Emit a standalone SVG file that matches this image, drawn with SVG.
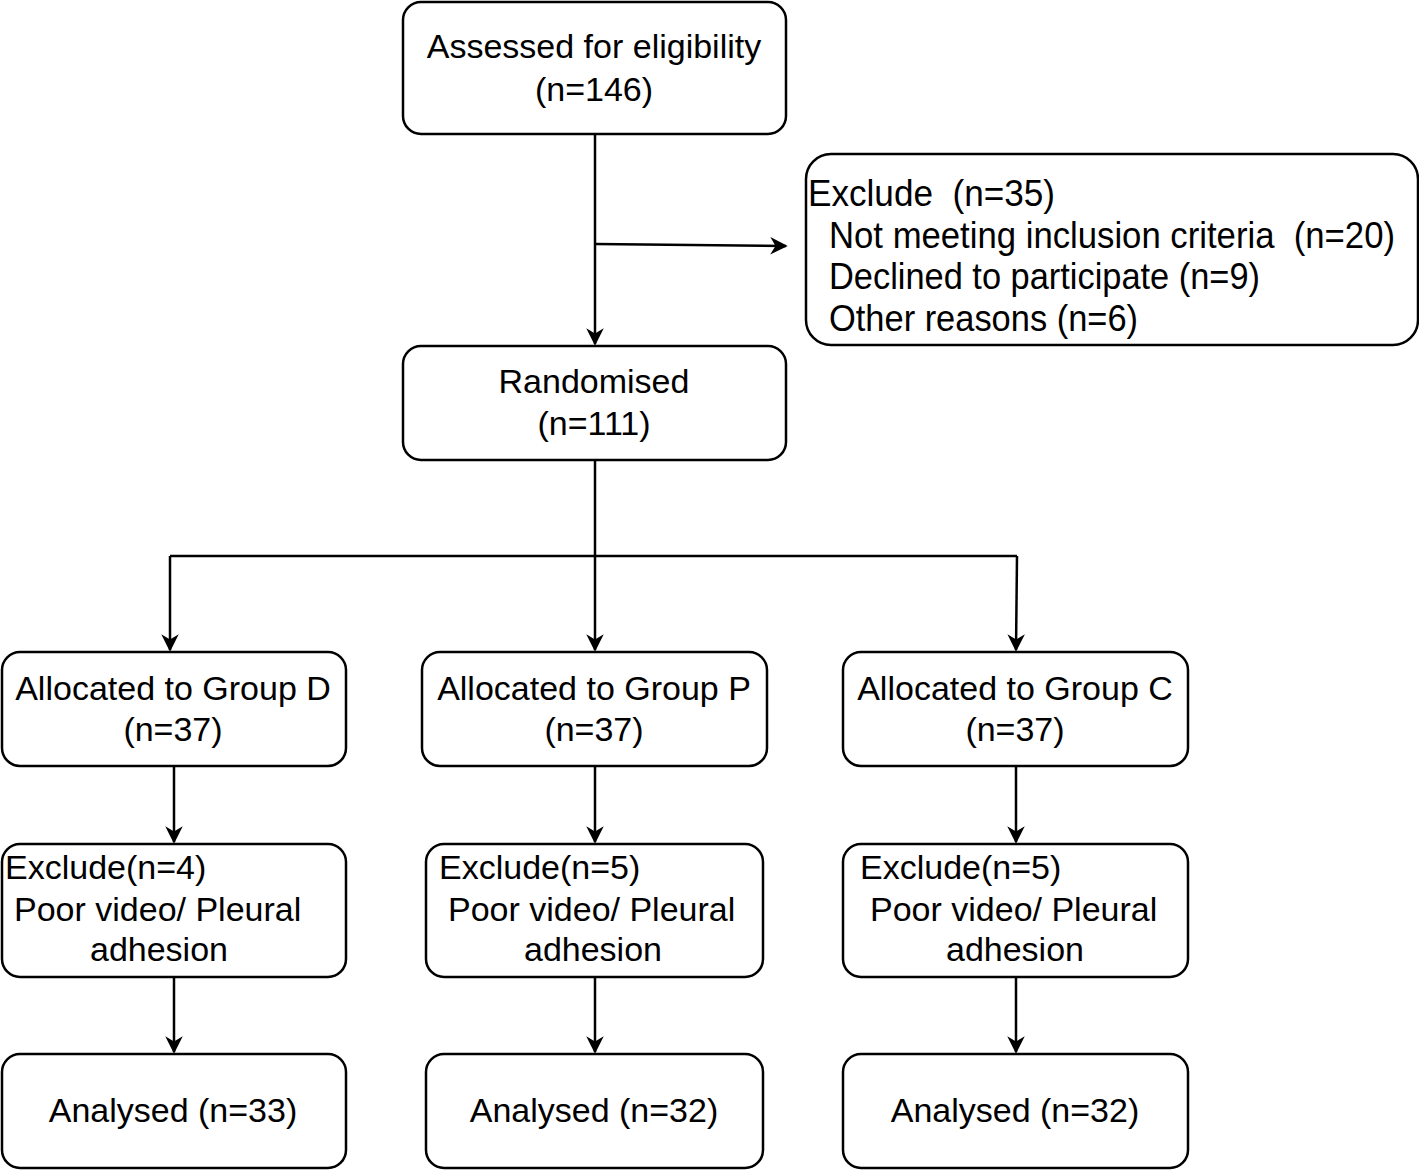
<svg xmlns="http://www.w3.org/2000/svg" width="1419" height="1170" viewBox="0 0 1419 1170">
<style>
.box{fill:#fff;stroke:#000;stroke-width:2.5}
.t{font-family:"Liberation Sans",Arial,sans-serif;font-size:34px;fill:#000}
.c{text-anchor:middle}
.n{font-family:"Liberation Sans",Arial,sans-serif;font-size:36px;fill:#000}
.ln{fill:none;stroke:#000;stroke-width:2.5}
</style>
<defs>
<marker id="ar" viewBox="0 0 10 10" refX="9" refY="5" markerWidth="7" markerHeight="7" orient="auto" markerUnits="strokeWidth">
<path d="M0,0 L10,5 L0,10 L3,5 z" fill="#000"/>
</marker>
</defs>
<rect width="1419" height="1170" fill="#fff"/>
<g id="connectors">
<path class="ln" d="M595,134 V344" marker-end="url(#ar)"/>
<path class="ln" d="M595,244 L786,246" marker-end="url(#ar)"/>
<path class="ln" d="M595,460 V650" marker-end="url(#ar)"/>
<path class="ln" d="M170,556 H1017"/>
<path class="ln" d="M170,556 V650" marker-end="url(#ar)"/>
<path class="ln" d="M1017,556 L1016,650" marker-end="url(#ar)"/>
<path class="ln" d="M174,766 V842" marker-end="url(#ar)"/>
<path class="ln" d="M595,766 V842" marker-end="url(#ar)"/>
<path class="ln" d="M1016,766 V842" marker-end="url(#ar)"/>
<path class="ln" d="M174,977 V1052" marker-end="url(#ar)"/>
<path class="ln" d="M595,977 V1052" marker-end="url(#ar)"/>
<path class="ln" d="M1016,977 V1052" marker-end="url(#ar)"/>
</g>
<g id="assessed">
<rect class="box" x="403" y="2" width="383" height="132" rx="18"/>
<text class="t c" x="594" y="58">Assessed for eligibility</text>
<text class="t c" x="594" y="101">(n=146)</text>
</g>
<g id="exclude-main">
<rect class="box" x="806" y="154" width="612" height="191" rx="25"/>
<text class="n" x="808" y="206" textLength="247" lengthAdjust="spacingAndGlyphs" xml:space="preserve">Exclude  (n=35)</text>
<text class="n" x="829" y="248" textLength="566" lengthAdjust="spacingAndGlyphs" xml:space="preserve">Not meeting inclusion criteria  (n=20)</text>
<text class="n" x="829" y="289" textLength="431" lengthAdjust="spacingAndGlyphs">Declined to participate (n=9)</text>
<text class="n" x="829" y="331" textLength="309" lengthAdjust="spacingAndGlyphs">Other reasons (n=6)</text>
</g>
<g id="randomised">
<rect class="box" x="403" y="346" width="383" height="114" rx="18"/>
<text class="t c" x="594" y="393">Randomised</text>
<text class="t c" x="594" y="435">(n=111)</text>
</g>
<g id="group-d">
<rect class="box" x="2" y="652" width="344" height="114" rx="18"/>
<text class="t c" x="173" y="700">Allocated to Group D</text>
<text class="t c" x="173" y="741">(n=37)</text>
</g>
<g id="group-p">
<rect class="box" x="422" y="652" width="345" height="114" rx="18"/>
<text class="t c" x="594" y="700">Allocated to Group P</text>
<text class="t c" x="594" y="741">(n=37)</text>
</g>
<g id="group-c">
<rect class="box" x="843" y="652" width="345" height="114" rx="18"/>
<text class="t c" x="1015" y="700">Allocated to Group C</text>
<text class="t c" x="1015" y="741">(n=37)</text>
</g>
<g id="exclude-d">
<rect class="box" x="2" y="844" width="344" height="133" rx="18"/>
<text class="t" x="5" y="879">Exclude(n=4)</text>
<text class="t" x="14" y="921">Poor video/ Pleural</text>
<text class="t c" x="159" y="961">adhesion</text>
</g>
<g id="exclude-p">
<rect class="box" x="426" y="844" width="337" height="133" rx="18"/>
<text class="t" x="439" y="879">Exclude(n=5)</text>
<text class="t" x="448" y="921">Poor video/ Pleural</text>
<text class="t c" x="593" y="961">adhesion</text>
</g>
<g id="exclude-c">
<rect class="box" x="843" y="844" width="345" height="133" rx="18"/>
<text class="t" x="860" y="879">Exclude(n=5)</text>
<text class="t" x="870" y="921">Poor video/ Pleural</text>
<text class="t c" x="1015" y="961">adhesion</text>
</g>
<g id="analysed-d">
<rect class="box" x="2" y="1054" width="344" height="114" rx="18"/>
<text class="t c" x="173" y="1122">Analysed (n=33)</text>
</g>
<g id="analysed-p">
<rect class="box" x="426" y="1054" width="337" height="114" rx="18"/>
<text class="t c" x="594" y="1122">Analysed (n=32)</text>
</g>
<g id="analysed-c">
<rect class="box" x="843" y="1054" width="345" height="114" rx="18"/>
<text class="t c" x="1015" y="1122">Analysed (n=32)</text>
</g>
</svg>
